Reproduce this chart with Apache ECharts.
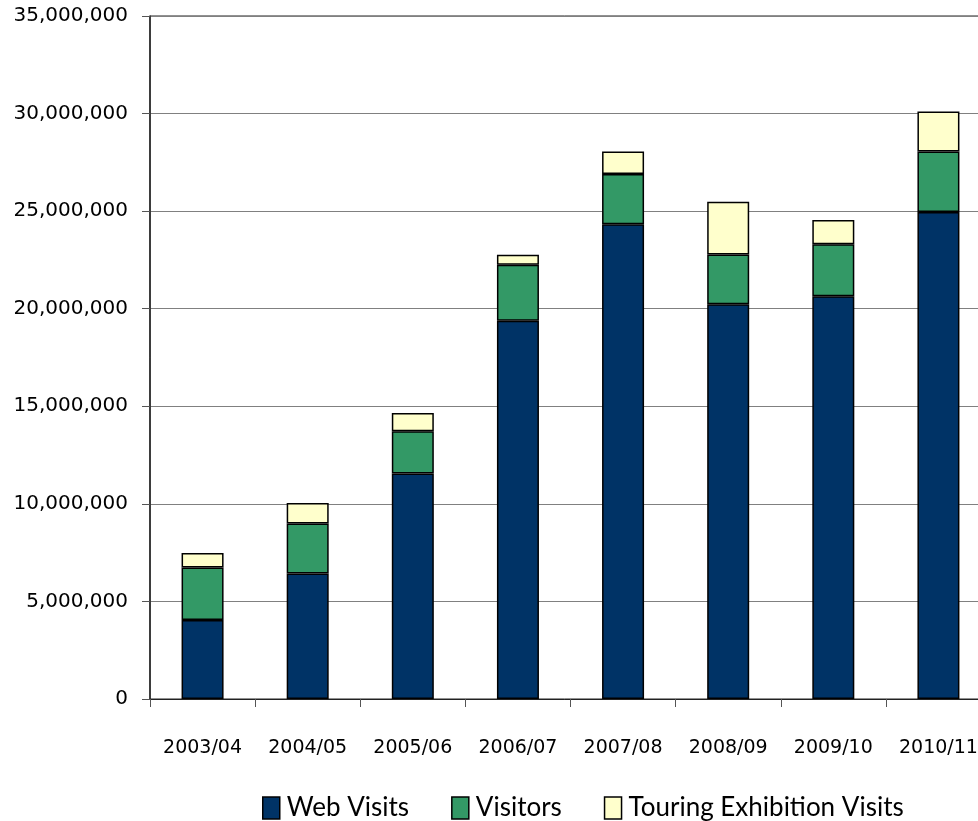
<!DOCTYPE html>
<html><head><meta charset="utf-8">
<script src="https://cdn.jsdelivr.net/npm/echarts@6/dist/echarts.min.js"></script>
<style>html,body{margin:0;padding:0;background:#fff}#c{width:978px;height:821px}</style>
</head><body><div id="c"></div>
<script>
const categories = ['2003/04','2004/05','2005/06','2006/07','2007/08','2008/09','2009/10','2010/11'];
const webVisits = [4050000, 6430000, 11560000, 19380000, 24330000, 20230000, 20640000, 24950000];
const visitors = [2690000, 2560000, 2160000, 2870000, 2570000, 2550000, 2660000, 3100000];
const touring = [740000, 1050000, 930000, 520000, 1160000, 2700000, 1250000, 2060000];
const seriesNames = ['Web Visits', 'Visitors', 'Touring Exhibition Visits'];
const colors = ['#003366', '#339966', '#FFFFCC'];

const tickFont = "'DejaVu Sans', sans-serif";
const legendFont = "Lato, sans-serif";
const chart = echarts.init(document.getElementById('c'), null, {renderer: 'canvas'});
const mk = (name, data, color) => ({
  name, type: 'bar', stack: 'total', data, barWidth: 42,
  itemStyle: {color, borderColor: '#000', borderWidth: 1.5},
  animation: false
});
chart.setOption({
  animation: false,
  grid: {left: 150, top: 16, height: 683, width: 841, containLabel: false, outerBoundsMode: 'none',
    show: true, borderColor: '#222', borderWidth: 1},
  legend: {
    top: 790, left: 257, itemWidth: 17, itemHeight: 22, itemGap: 42,
    textStyle: {fontFamily: legendFont, fontSize: 26, color: '#000', padding: [0, 0, 0, 2]},
    data: seriesNames.map((n, i) => ({name: n, icon: 'rect', itemStyle: {color: colors[i], borderColor: '#000', borderWidth: 1.5}}))
  },
  xAxis: {
    type: 'category', data: categories,
    axisLine: {lineStyle: {color: '#222', width: 1}},
    axisTick: {show: true, length: 8, inside: false, lineStyle: {color: '#555'}},
    axisLabel: {margin: 40, fontFamily: tickFont, fontSize: 19, color: '#000', hideOverlap: false}
  },
  yAxis: {
    type: 'value', min: 0, max: 35000000, interval: 5000000,
    axisLine: {show: true, lineStyle: {color: '#222', width: 1.5}},
    axisTick: {show: true, length: 8, lineStyle: {color: '#555'}},
    splitLine: {lineStyle: {color: '#808080', width: 1.2}},
    axisLabel: {margin: 22, fontFamily: tickFont, fontSize: 20, color: '#000',
      formatter: v => v.toLocaleString('en-US')}
  },
  series: [mk(seriesNames[0], webVisits, colors[0]), mk(seriesNames[1], visitors, colors[1]), mk(seriesNames[2], touring, colors[2])]
});
</script></body></html>
